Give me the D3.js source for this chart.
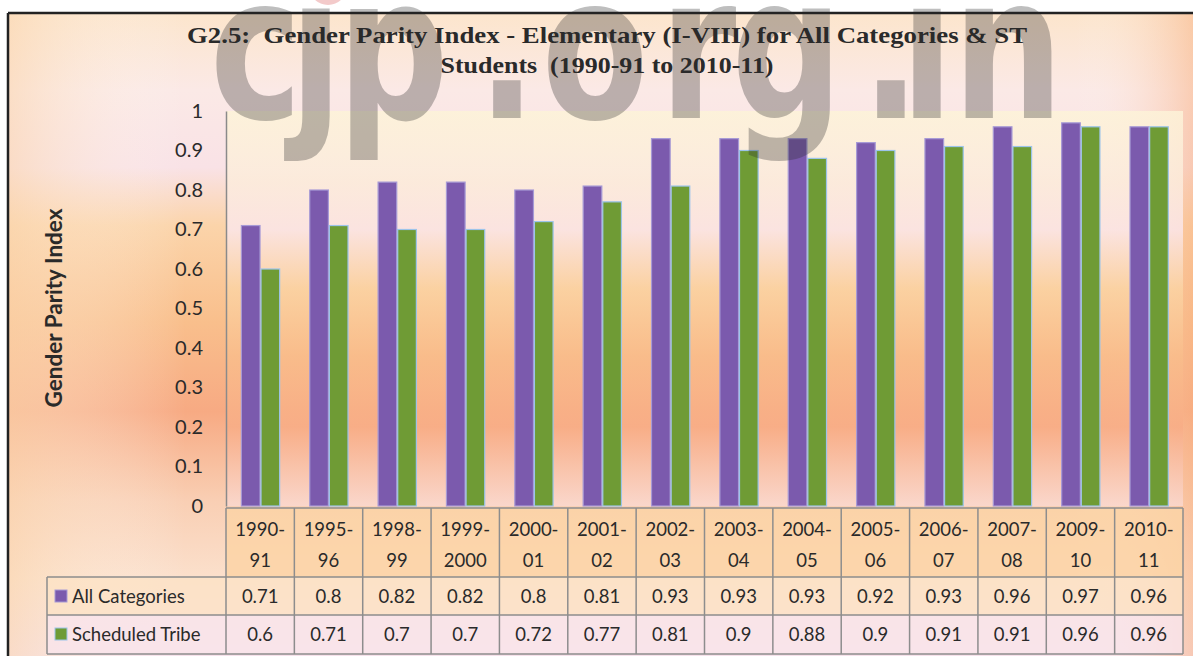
<!doctype html>
<meta charset="utf-8">
<style>
  body { margin: 0; background: #fff; }
  text { font-family: Lato, "Open Sans", sans-serif; fill: #2a2a2a; }
</style>
<script src="https://d3js.org/d3.v7.min.js"></script>
<body>
<svg id="chart"></svg>
<script>
// data
var categories = ["1990-91", "1995-96", "1998-99", "1999-2000", "2000-01", "2001-02", "2002-03",
                  "2003-04", "2004-05", "2005-06", "2006-07", "2007-08", "2009-10", "2010-11"];
var catLines = [["1990-", "91"], ["1995-", "96"], ["1998-", "99"], ["1999-", "2000"], ["2000-", "01"],
                ["2001-", "02"], ["2002-", "03"], ["2003-", "04"], ["2004-", "05"], ["2005-", "06"],
                ["2006-", "07"], ["2007-", "08"], ["2009-", "10"], ["2010-", "11"]];
var seriesNames = ["All Categories", "Scheduled Tribe"];
var allCategories = [0.71, 0.8, 0.82, 0.82, 0.8, 0.81, 0.93, 0.93, 0.93, 0.92, 0.93, 0.96, 0.97, 0.96];
var scheduledTribe = [0.6, 0.71, 0.7, 0.7, 0.72, 0.77, 0.81, 0.9, 0.88, 0.9, 0.91, 0.91, 0.96, 0.96];
var yTicks = [0, 0.1, 0.2, 0.3, 0.4, 0.5, 0.6, 0.7, 0.8, 0.9, 1];

var W = 1193, H = 656;
var svg = d3.select("#chart").attr("width", W).attr("height", H);
var defs = svg.append("defs");

function vgrad(id, stops) {
  var g = defs.append("linearGradient").attr("id", id)
    .attr("x1", 0).attr("y1", 0).attr("x2", 0).attr("y2", 1);
  stops.forEach(function(s) { g.append("stop").attr("offset", s[0]).attr("stop-color", s[1]); });
}
vgrad("bg", [[0, "#fce5cc"], [0.12, "#fbe9e6"], [0.24, "#f9e2e6"], [0.33, "#fbd4aa"],
             [0.48, "#f9bf8c"], [0.62, "#f7aa83"], [0.76, "#f9cfb4"], [0.88, "#fbe0cc"], [1, "#f6e1ea"]]);
vgrad("plotbg", [[0, "#fdf3d8"], [0.18, "#fcecdc"], [0.3, "#fbe6ea"], [0.45, "#fbd3a3"],
                 [0.62, "#f9bd8b"], [0.8, "#f8ad86"], [1, "#fad8cf"]]);
var hg = defs.append("linearGradient").attr("id", "sideTint");
hg.append("stop").attr("offset", 0).attr("stop-color", "#fbd7b0").attr("stop-opacity", 0.6);
hg.append("stop").attr("offset", 0.15).attr("stop-color", "#fff").attr("stop-opacity", 0);
hg.append("stop").attr("offset", 0.9).attr("stop-color", "#fff").attr("stop-opacity", 0);
hg.append("stop").attr("offset", 1).attr("stop-color", "#f8b080").attr("stop-opacity", 0.5);

// chart background and frame
svg.append("rect").attr("x", 8).attr("y", 13).attr("width", W - 8).attr("height", H - 13)
  .attr("fill", "url(#bg)");
svg.append("rect").attr("x", 8).attr("y", 13).attr("width", W - 8).attr("height", H - 13)
  .attr("fill", "url(#sideTint)");

var plot = { left: 226, right: 1183, top: 111, bottom: 506 };
svg.append("rect").attr("x", plot.left).attr("y", plot.top)
  .attr("width", plot.right - plot.left).attr("height", plot.bottom - plot.top)
  .attr("fill", "url(#plotbg)").attr("opacity", 0.85);

var y = d3.scaleLinear().domain([0, 1]).range([plot.bottom, plot.top]);
var x0 = d3.scaleBand().domain(categories).range([plot.left, plot.right]).padding(0);
var bw = x0.bandwidth();
var x1 = d3.scaleBand().domain(seriesNames).range([bw * 0.225, bw * 0.785]).paddingInner(0.05);
var colors = { "All Categories": "#7b5aad", "Scheduled Tribe": "#6f9b35" };
var strokes = { "All Categories": "#a79ad6", "Scheduled Tribe": "#9cc4ea" };

// y axis
var yAxis = svg.append("g").attr("transform", "translate(" + plot.left + ",0)")
  .call(d3.axisLeft(y).tickValues(yTicks).tickSize(0).tickPadding(23)
    .tickFormat(function(d) { return d3.format("")(+d.toFixed(1)); }));
yAxis.select(".domain").attr("stroke", "#8a8a8a").attr("stroke-width", 1.5);
yAxis.selectAll("text").style("font-size", "20px").style("font-family", "Lato, sans-serif")
  .attr("fill", "#2a2a2a");

svg.append("text")
  .attr("transform", "translate(62,308) rotate(-90)")
  .attr("text-anchor", "middle")
  .style("font-size", "22.5px").style("font-weight", "bold")
  .text("Gender Parity Index");

// bars
var rows = categories.map(function(c, i) {
  return { cat: c, vals: [{ s: seriesNames[0], v: allCategories[i] }, { s: seriesNames[1], v: scheduledTribe[i] }] };
});
var groups = svg.append("g").selectAll("g").data(rows).enter().append("g")
  .attr("transform", function(d) { return "translate(" + x0(d.cat) + ",0)"; });
groups.selectAll("rect").data(function(d) { return d.vals; }).enter().append("rect")
  .attr("x", function(d) { return x1(d.s); })
  .attr("y", function(d) { return y(d.v); })
  .attr("width", x1.bandwidth())
  .attr("height", function(d) { return y(0) - y(d.v); })
  .attr("fill", function(d) { return colors[d.s]; })
  .attr("stroke", function(d) { return strokes[d.s]; })
  .attr("stroke-width", 1.2);

// data table
var tbl = { headTop: 508, row1: 577, row2: 615, bottom: 654, legendLeft: 47 };
svg.append("rect").attr("x", plot.left).attr("y", tbl.headTop)
  .attr("width", plot.right - plot.left).attr("height", tbl.row1 - tbl.headTop)
  .attr("fill", "#fbd3a6").attr("opacity", 0.85);
svg.append("rect").attr("x", tbl.legendLeft).attr("y", tbl.row1)
  .attr("width", plot.right - tbl.legendLeft).attr("height", tbl.row2 - tbl.row1)
  .attr("fill", "#fde2c6").attr("opacity", 0.8);
svg.append("rect").attr("x", tbl.legendLeft).attr("y", tbl.row2)
  .attr("width", plot.right - tbl.legendLeft).attr("height", tbl.bottom - tbl.row2)
  .attr("fill", "#f9e4ea").attr("opacity", 0.85);

var grid = svg.append("g").attr("stroke", "#8d8d8d").attr("stroke-width", 1.5).attr("fill", "none");
grid.append("line").attr("x1", plot.left).attr("x2", plot.right).attr("y1", tbl.headTop).attr("y2", tbl.headTop);
grid.append("line").attr("x1", tbl.legendLeft).attr("x2", plot.right).attr("y1", tbl.row1).attr("y2", tbl.row1);
grid.append("line").attr("x1", tbl.legendLeft).attr("x2", plot.right).attr("y1", tbl.row2).attr("y2", tbl.row2);
grid.append("line").attr("x1", tbl.legendLeft).attr("x2", plot.right).attr("y1", tbl.bottom).attr("y2", tbl.bottom);
grid.append("line").attr("x1", tbl.legendLeft).attr("x2", tbl.legendLeft).attr("y1", tbl.row1).attr("y2", tbl.bottom);
grid.selectAll(".col").data(categories).enter().append("line")
  .attr("x1", function(d) { return x0(d); }).attr("x2", function(d) { return x0(d); })
  .attr("y1", tbl.headTop).attr("y2", tbl.bottom);
grid.append("line").attr("x1", plot.right).attr("x2", plot.right).attr("y1", tbl.headTop).attr("y2", tbl.bottom);

var head = svg.append("g").selectAll("text").data(categories).enter().append("text")
  .attr("x", function(d) { return x0(d) + bw / 2; })
  .attr("text-anchor", "middle").style("font-size", "18.5px");
head.append("tspan").attr("x", function(d) { return x0(d) + bw / 2; }).attr("y", 536)
  .text(function(d, i) { return catLines[i][0]; });
head.append("tspan").attr("x", function(d) { return x0(d) + bw / 2; }).attr("y", 567)
  .text(function(d, i) { return catLines[i][1]; });

[allCategories, scheduledTribe].forEach(function(vals, r) {
  var ty = r === 0 ? 603 : 641;
  svg.append("g").selectAll("text").data(vals).enter().append("text")
    .attr("x", function(d, i) { return x0(categories[i]) + bw / 2; })
    .attr("y", ty).attr("text-anchor", "middle").style("font-size", "18.5px")
    .text(function(d) { return d; });
  svg.append("rect").attr("x", 55).attr("y", ty - 13).attr("width", 12).attr("height", 12)
    .attr("fill", colors[seriesNames[r]]).attr("stroke", strokes[seriesNames[r]]).attr("stroke-width", 1);
  svg.append("text").attr("x", 72).attr("y", ty).style("font-size", "18.5px").text(seriesNames[r]);
});

// title
var title = svg.append("g").style("font-family", "'Liberation Serif', serif").style("font-weight", "bold");
title.append("text").attr("x", 607).attr("y", 43).attr("text-anchor", "middle")
  .attr("textLength", 840).attr("lengthAdjust", "spacingAndGlyphs")
  .style("font-family", "'Liberation Serif', serif").style("font-size", "23.5px").style("white-space", "pre")
  .text("G2.5:  Gender Parity Index - Elementary (I-VIII) for All Categories & ST");
title.append("text").attr("x", 607).attr("y", 73).attr("text-anchor", "middle")
  .attr("textLength", 333).attr("lengthAdjust", "spacingAndGlyphs")
  .style("font-family", "'Liberation Serif', serif").style("font-size", "23.5px").style("white-space", "pre")
  .text("Students  (1990-91 to 2010-11)");

// frame lines
svg.append("line").attr("x1", 8).attr("x2", W).attr("y1", 13).attr("y2", 13)
  .attr("stroke", "#222").attr("stroke-width", 2.5);
svg.append("line").attr("x1", 8).attr("x2", 8).attr("y1", 13).attr("y2", H)
  .attr("stroke", "#222").attr("stroke-width", 2.5);

// watermark: one glyph at a time so each letter sits where it does in the picture
var wmGlyphs = [["c", 256], ["j", 316], ["p", 393], [".", 507], ["o", 595], ["r", 698],
                ["g", 787], [".", 891], ["i", 927], ["n", 1008]];
svg.append("circle").attr("cx", 328).attr("cy", -14).attr("r", 19)
  .attr("fill", "#e07a7a").attr("opacity", 0.4);
svg.append("g").attr("opacity", 0.3).selectAll("text").data(wmGlyphs).enter().append("text")
  .attr("transform", function(d) { return "translate(" + d[1] + ",118) scale(0.78,1)"; })
  .attr("text-anchor", "middle")
  .style("font-family", "'DejaVu Sans', sans-serif").style("font-weight", "bold").style("font-size", "200px")
  .attr("fill", "#857a78")
  .text(function(d) { return d[0]; });
</script>
</body>
